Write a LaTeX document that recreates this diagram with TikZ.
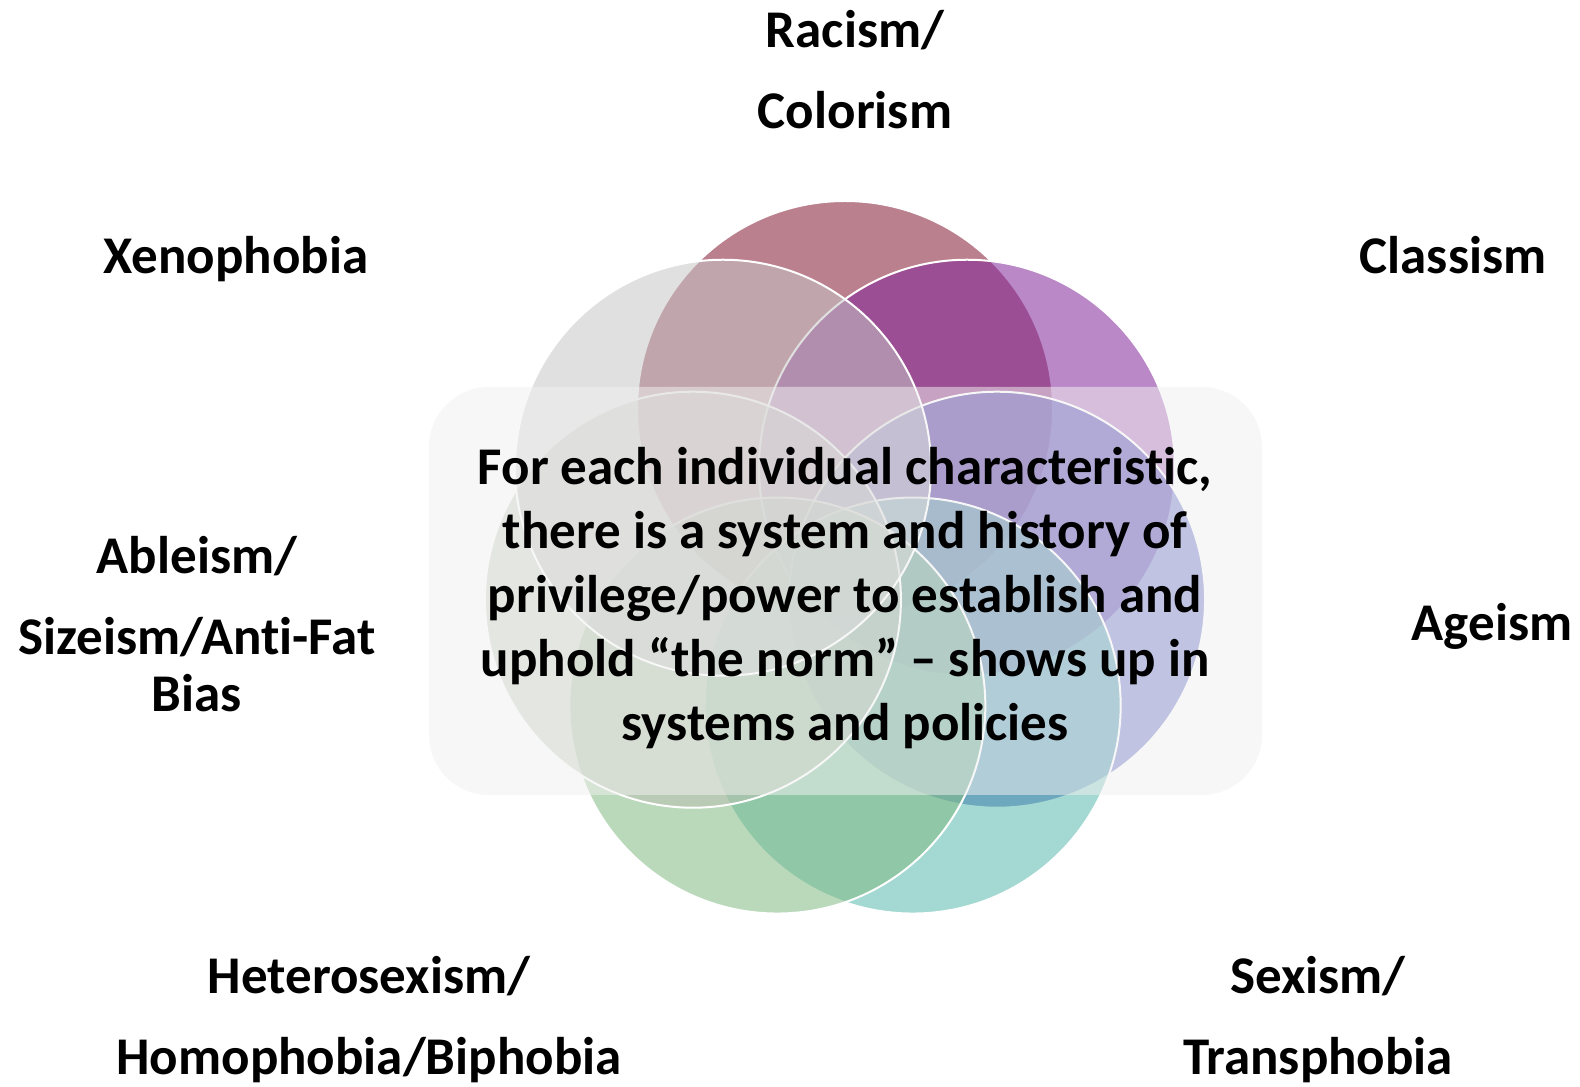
\documentclass[tikz,border=0pt]{standalone}
\usepackage{fontspec}
\setmainfont{Carlito}[Ligatures=NoCommon]
\usepackage{tikz}
\usetikzlibrary{calc}

\definecolor{racismcol}{RGB}{131,22,48}
\definecolor{classismcol}{RGB}{129,36,153}
\definecolor{ageismcol}{RGB}{45,60,177}
\definecolor{sexismcol}{RGB}{85,185,172}
\definecolor{heterocol}{RGB}{129,185,131}
\definecolor{ableismcol}{RGB}{186,192,176}
\definecolor{xenocol}{RGB}{198,198,198}
\definecolor{panelcol}{RGB}{240,240,240}

\begin{document}
\begin{tikzpicture}[x=0.5pt,y=0.5pt,
  venn/.style={circle,minimum size=208pt,inner sep=0pt,draw=white,line width=1pt,fill opacity=0.54},
  tag/.style={align=center,inner sep=0pt,font=\fontsize{26.5}{28.5}\selectfont\bfseries}]
\fill[white] (0,0) rectangle (1580,1087);
\useasboundingbox (0,0) rectangle (1580,1087);
\coordinate (ctr) at (845,522);

% the seven circles
\node[venn,fill=racismcol] (racism) at ($(ctr)+(90:156)$) {};
\node[venn,fill=classismcol] (classism) at ($(ctr)+(38.57:156)$) {};
\node[venn,fill=ageismcol] (ageism) at ($(ctr)+(-12.86:156)$) {};
\node[venn,fill=sexismcol] (sexism) at ($(ctr)+(-64.29:156)$) {};
\node[venn,fill=heterocol] (hetero) at ($(ctr)+(-115.71:156)$) {};
\node[venn,fill=ableismcol] (ableism) at ($(ctr)+(-167.14:156)$) {};
\node[venn,fill=xenocol] (xeno) at ($(ctr)+(141.43:156)$) {};

\fill[panelcol,fill opacity=0.52,rounded corners=30pt] (429,292) rectangle (1262,700);
\node[tag,font=\fontsize{26.5}{32.1}\selectfont\bfseries] (norm) at (845,489)
  {For each individual characteristic,\\ there is a system and history of\\ privilege/power to establish and\\ uphold “the norm” – shows up in\\ systems and policies};

% labels
\node[tag] (racismtxt) at (855,1017.5) {Racism/\\[12pt]Colorism};
\node[tag,anchor=base] (xenotxt) at (236,813) {Xenophobia};
\node[tag,anchor=base] (classismtxt) at (1453,813) {Classism};
\node[tag,anchor=base] (ageismtxt) at (1492,446) {Ageism};
\node[tag] (ableismtxt) at (197,463) {Ableism/\\[12pt]Sizeism/Anti-Fat\\Bias};
\node[tag] (heterotxt) at (369,67) {Heterosexism/\\[12pt]Homophobia/Biphobia};
\node[tag] (sexismtxt) at (1318,67) {Sexism/\\[12pt]Transphobia};
\end{tikzpicture}
\end{document}
